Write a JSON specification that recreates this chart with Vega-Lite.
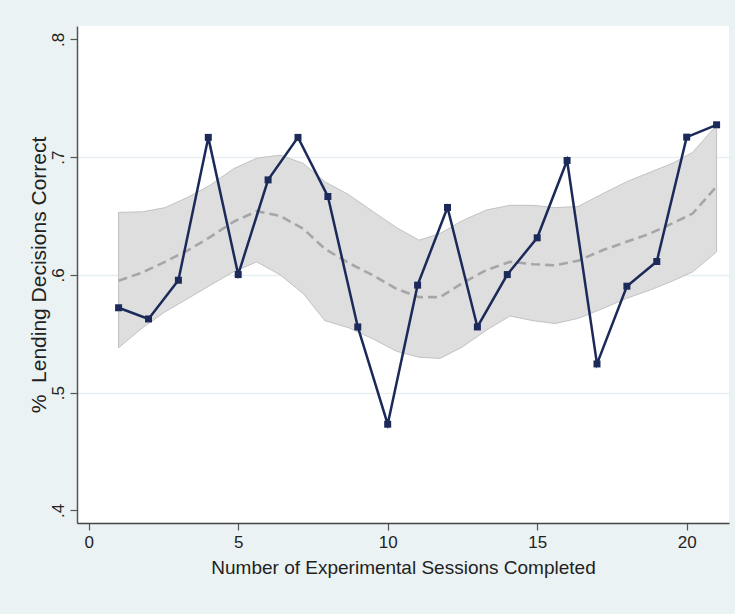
{
  "$schema": "https://vega.github.io/schema/vega-lite/v6.json",
  "width": 652,
  "height": 497,
  "autosize": "none",
  "padding": {"left": 77, "top": 26, "right": 6, "bottom": 91},
  "background": "#EAF2F3",
  "config": {
    "view": {"fill": "white", "stroke": null},
    "font": "Liberation Sans",
    "axis": {
      "domainColor": "#555555",
      "domainWidth": 1.5,
      "tickColor": "#555555",
      "tickWidth": 1.2,
      "tickSize": 7,
      "labelColor": "#222222",
      "titleColor": "#222222",
      "labelFont": "Liberation Sans",
      "titleFont": "Liberation Sans",
      "labelFontSize": 17,
      "titleFontSize": 19,
      "titleFontWeight": "normal"
    }
  },
  "datasets": {
    "band": [
      {"x": 1, "lo": 0.538, "hi": 0.653, "fit": 0.595},
      {"x": 1.8, "lo": 0.555, "hi": 0.6535, "fit": 0.602},
      {"x": 2.55, "lo": 0.5685, "hi": 0.657, "fit": 0.611},
      {"x": 3.33, "lo": 0.58, "hi": 0.666, "fit": 0.621},
      {"x": 4.06, "lo": 0.591, "hi": 0.676, "fit": 0.632},
      {"x": 4.84, "lo": 0.6025, "hi": 0.69, "fit": 0.645},
      {"x": 5.62, "lo": 0.611, "hi": 0.699, "fit": 0.654},
      {"x": 6.4, "lo": 0.6, "hi": 0.7016, "fit": 0.65},
      {"x": 7.18, "lo": 0.584, "hi": 0.6946, "fit": 0.639},
      {"x": 7.9, "lo": 0.561, "hi": 0.679, "fit": 0.622},
      {"x": 8.7, "lo": 0.555, "hi": 0.668, "fit": 0.61},
      {"x": 9.55, "lo": 0.545, "hi": 0.653, "fit": 0.599},
      {"x": 10.3, "lo": 0.535, "hi": 0.64, "fit": 0.588},
      {"x": 11.05, "lo": 0.53, "hi": 0.6294, "fit": 0.581},
      {"x": 11.75, "lo": 0.529, "hi": 0.635, "fit": 0.581},
      {"x": 12.5, "lo": 0.5387, "hi": 0.646, "fit": 0.593},
      {"x": 13.3, "lo": 0.553, "hi": 0.655, "fit": 0.604},
      {"x": 14.09, "lo": 0.565, "hi": 0.659, "fit": 0.611},
      {"x": 14.87, "lo": 0.561, "hi": 0.659, "fit": 0.609},
      {"x": 15.6, "lo": 0.5586, "hi": 0.657, "fit": 0.608},
      {"x": 16.37, "lo": 0.563, "hi": 0.658, "fit": 0.612},
      {"x": 17.2, "lo": 0.5714, "hi": 0.669, "fit": 0.621},
      {"x": 17.99, "lo": 0.58, "hi": 0.679, "fit": 0.628},
      {"x": 18.77, "lo": 0.587, "hi": 0.687, "fit": 0.635},
      {"x": 19.55, "lo": 0.595, "hi": 0.695, "fit": 0.644},
      {"x": 20.2, "lo": 0.6025, "hi": 0.704, "fit": 0.652},
      {"x": 21, "lo": 0.6195, "hi": 0.727, "fit": 0.675}
    ],
    "obs": [
      {"session": 1, "pct": 0.572},
      {"session": 2, "pct": 0.5625},
      {"session": 3, "pct": 0.5954},
      {"session": 4, "pct": 0.7167},
      {"session": 5, "pct": 0.6002},
      {"session": 6, "pct": 0.6806},
      {"session": 7, "pct": 0.7167},
      {"session": 8, "pct": 0.6665},
      {"session": 9, "pct": 0.5557},
      {"session": 10, "pct": 0.4731},
      {"session": 11, "pct": 0.5912},
      {"session": 12, "pct": 0.6572},
      {"session": 13, "pct": 0.5557},
      {"session": 14, "pct": 0.6002},
      {"session": 15, "pct": 0.6314},
      {"session": 16, "pct": 0.6971},
      {"session": 17, "pct": 0.5243},
      {"session": 18, "pct": 0.5903},
      {"session": 19, "pct": 0.6113},
      {"session": 20, "pct": 0.7169},
      {"session": 21, "pct": 0.7274}
    ]
  },
  "layer": [
    {
      "data": {"name": "band"},
      "mark": {"type": "area", "fill": "#DEDEDE", "stroke": "#C2C2C2", "strokeWidth": 1},
      "encoding": {
        "x": {
          "field": "x", "type": "quantitative",
          "scale": {"domain": [-0.391, 21.415], "nice": false, "zero": false},
          "axis": {
            "title": "Number of Experimental Sessions Completed",
            "values": [0, 5, 10, 15, 20],
            "grid": false,
            "labelPadding": 4,
            "titlePadding": 8,
            "domainColor": "#444444"
          }
        },
        "y": {
          "field": "lo", "type": "quantitative",
          "scale": {"domain": [0.3892, 0.8113], "nice": false, "zero": false},
          "axis": {
            "title": "% \u00a0Lending Decisions Correct",
            "values": [0.4, 0.5, 0.6, 0.7, 0.8],
            "labelExpr": "replace(format(datum.value, '.1f'), '0.', '.')",
            "labelAngle": -90,
            "labelAlign": "center",
            "labelBaseline": "alphabetic",
            "labelPadding": 7,
            "titlePadding": 0,
            "titleFontSize": 21,
            "grid": true,
            "gridColor": "#E6EEF1",
            "gridWidth": 1.5,
            "gridOpacity": {"condition": {"test": "datum.value < 0.45 || datum.value > 0.75", "value": 0}, "value": 1}
          }
        },
        "y2": {"field": "hi"}
      }
    },
    {
      "data": {"name": "band"},
      "mark": {"type": "line", "color": "#A6A6A6", "strokeWidth": 2.6, "strokeDash": [9, 5]},
      "encoding": {
        "x": {"field": "x", "type": "quantitative", "title": "Number of Experimental Sessions Completed"},
        "y": {"field": "fit", "type": "quantitative", "title": "% \u00a0Lending Decisions Correct"}
      }
    },
    {
      "data": {"name": "obs"},
      "mark": {
        "type": "line",
        "color": "#1C2A59",
        "strokeWidth": 2.5,
        "point": {"shape": "square", "size": 49, "filled": true, "color": "#1C2A59", "opacity": 1}
      },
      "encoding": {
        "x": {"field": "session", "type": "quantitative", "title": "Number of Experimental Sessions Completed"},
        "y": {"field": "pct", "type": "quantitative", "title": "% \u00a0Lending Decisions Correct"}
      }
    }
  ]
}
